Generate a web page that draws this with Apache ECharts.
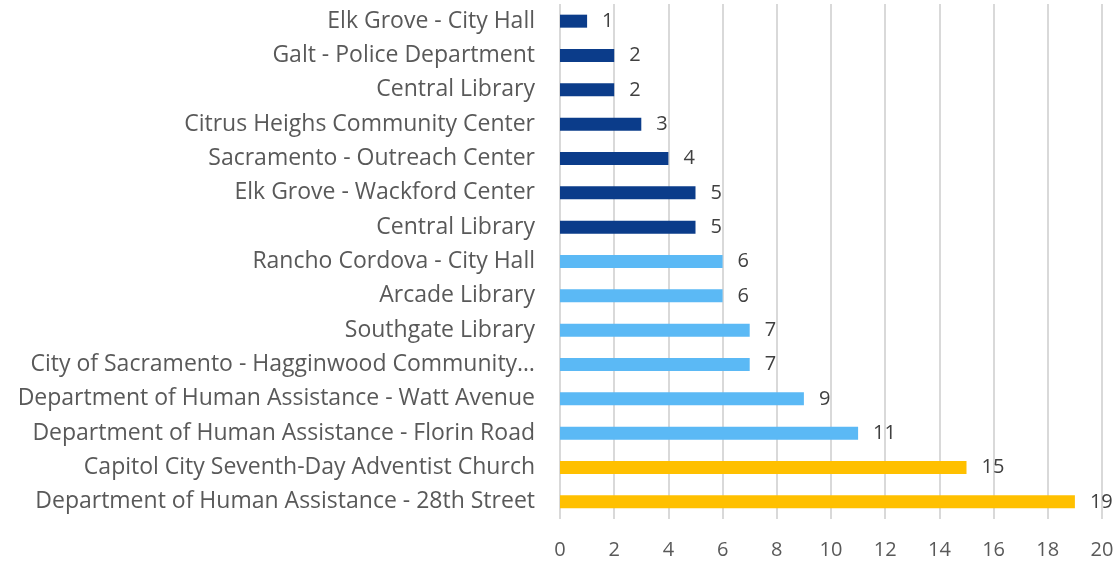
<!DOCTYPE html>
<html>
<head>
<meta charset="utf-8">
<script src="https://cdn.jsdelivr.net/npm/echarts@6/dist/echarts.min.js"></script>
<style>
  html, body { margin: 0; padding: 0; background: #fff; }
  #main { width: 1118px; height: 563px; }
</style>
</head>
<body>
<div id="main"></div>
<script>
// categories listed bottom to top (ECharts category y axis order)
const categories = [
  'Department of Human Assistance - 28th Street',
  'Capitol City Seventh-Day Adventist Church',
  'Department of Human Assistance - Florin Road',
  'Department of Human Assistance - Watt Avenue',
  'City of Sacramento - Hagginwood Community…',
  'Southgate Library',
  'Arcade Library',
  'Rancho Cordova - City Hall',
  'Central Library',
  'Elk Grove - Wackford Center',
  'Sacramento - Outreach Center',
  'Citrus Heighs Community Center',
  'Central Library',
  'Galt - Police Department',
  'Elk Grove - City Hall'
]
const values = [19, 15, 11, 9, 7, 7, 6, 6, 5, 5, 4, 3, 2, 2, 1]
const groups = ['high', 'high', 'mid', 'mid', 'mid', 'mid', 'mid', 'mid', 'low', 'low', 'low', 'low', 'low', 'low', 'low']
const xTicks = [0, 20, 2] // min, max, interval

const groupColor = { high: '#FFC000', mid: '#5BB9F5', low: '#0B3C8A' }
const fontName = 'Open Sans'

const chart = echarts.init(document.getElementById('main'))
chart.setOption({
  animation: false,
  grid: { left: 560, right: 16, top: 4, bottom: 44, containLabel: false },
  xAxis: {
    type: 'value',
    min: xTicks[0],
    max: xTicks[1],
    interval: xTicks[2],
    axisLine: { show: false },
    axisTick: { show: false },
    splitLine: { show: true, lineStyle: { color: '#D9D9D9', width: 2 } },
    axisLabel: { color: '#595959', fontSize: 20, fontFamily: fontName, margin: 21 }
  },
  yAxis: {
    type: 'category',
    data: categories,
    axisLine: { show: false },
    axisTick: { show: false },
    axisLabel: { color: '#595959', fontSize: 23, fontFamily: fontName, margin: 25 }
  },
  series: [{
    type: 'bar',
    data: values,
    barWidth: 13,
    itemStyle: {
      color: function (p) { return groupColor[groups[p.dataIndex]] }
    },
    label: {
      show: true,
      position: 'right',
      distance: 15,
      color: '#404040',
      fontSize: 20,
      fontFamily: fontName
    }
  }]
})
</script>
</body>
</html>
